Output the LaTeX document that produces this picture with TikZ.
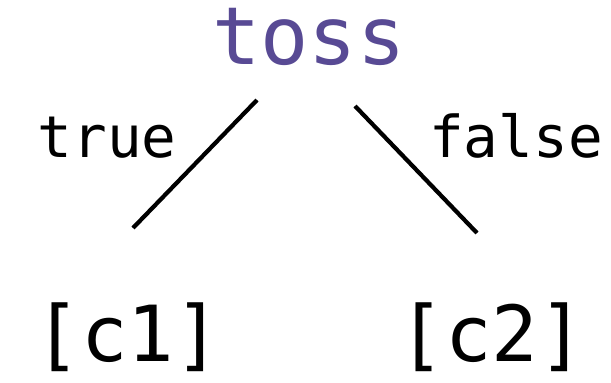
\documentclass[tikz,border=0pt]{standalone}
\usepackage{fontspec}
\setmonofont{DejaVu Sans Mono}
\usetikzlibrary{calc}
\definecolor{tosspurple}{HTML}{584A94}
\tikzset{
  leaf/.style={font=\ttfamily\fontsize{55}{60}\selectfont, inner sep=0pt, anchor=base},
  root/.style={leaf, font=\ttfamily\fontsize{57}{62}\selectfont, text=tosspurple},
  branch/.style={font=\ttfamily\fontsize{41}{45}\selectfont, inner sep=0pt},
  arm/.style={line width=3pt}
}
\begin{document}
\begin{tikzpicture}[x=0.025cm,y=-0.025cm]
      \useasboundingbox (0,0) rectangle (611,382);
      \node[root] (toss) at (309,64) {toss};
      \node[leaf] (c1) at (128,361) {[c1]};
      \node[leaf] (c2) at (492,361) {[c2]};
      % branches hang from the root and stop short of the leaves
      \draw[arm] ($(toss.base)+(-52,36)$) -- ($(c1.base)+(5,-133)$);
      \draw[arm] ($(toss.base)+(46,42)$) -- ($(c2.base)+(-15,-128)$);
      \node[branch,anchor=base east] (t) at (177,157) {true};
      \node[branch,anchor=base west] (f) at (429,157) {false};
    \end{tikzpicture}
\end{document}
